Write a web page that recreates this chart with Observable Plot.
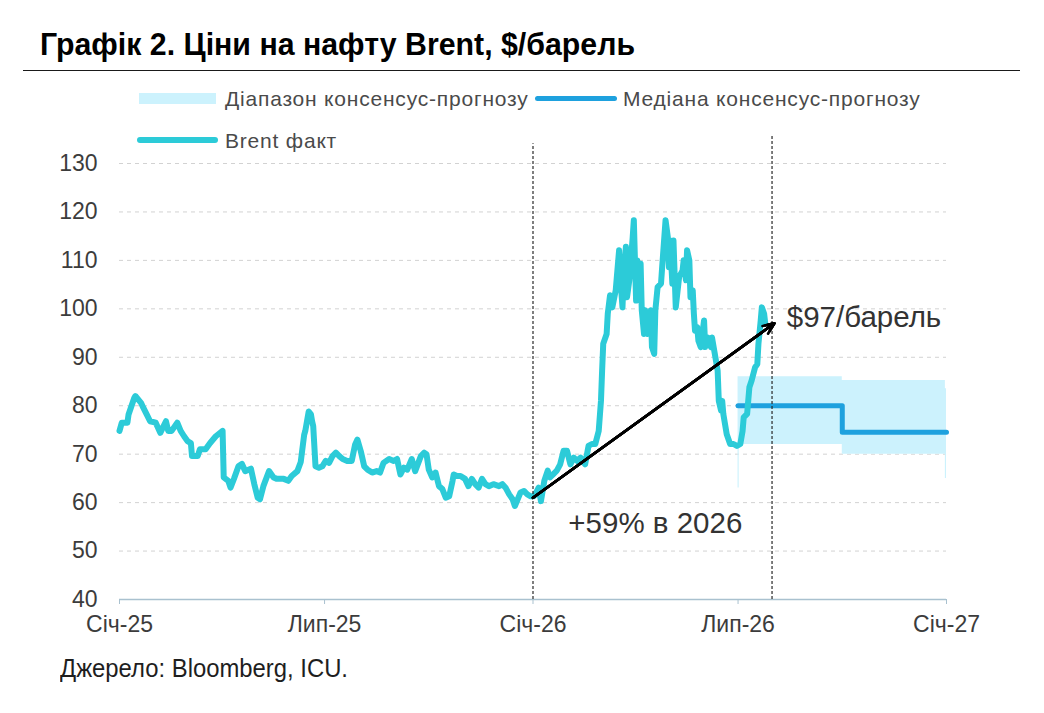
<!DOCTYPE html>
<html lang="uk">
<head>
<meta charset="utf-8">
<script src="https://cdn.jsdelivr.net/npm/d3@7"></script>
<script src="https://cdn.jsdelivr.net/npm/@observablehq/plot@0.6"></script>
<style>
  html, body { margin: 0; padding: 0; background: #fff; }
  #page { position: relative; width: 1044px; height: 713px; overflow: hidden;
          font-family: "Liberation Sans", Arial, sans-serif; }
  #title { position: absolute; left: 40px; top: 28px; white-space: nowrap;
           font-weight: bold; font-size: 32px; line-height: 32px; color: #000; }
  #rule { position: absolute; left: 23px; top: 70px; width: 997px; height: 1px; background: #1a1a1a; }
  #chart { position: absolute; left: 0; top: 120px; }
  .sw { position: absolute; }
  .lg { position: absolute; white-space: nowrap; font-size: 21px; line-height: 21px;
        letter-spacing: 0.8px; color: #4a4a4a; }
  #source { position: absolute; left: 60px; top: 655px; white-space: nowrap;
            font-size: 26px; line-height: 26px; color: #1e1e1e; }
</style>
</head>
<body>
<div id="page">
  <div id="title">Графік 2. Ціни на нафту Brent, $/барель</div>
  <div id="rule"></div>
  <div id="legend"></div>
  <div id="chart"></div>
  <div id="source">Джерело: Bloomberg, ICU.</div>
</div>
<script>
// Brent, daily closes ($/bbl)
const brentDates = [
  "2025-01-01","2025-01-03","2025-01-08","2025-01-09","2025-01-14","2025-01-15","2025-01-20","2025-01-22",
  "2025-01-25","2025-01-28","2025-02-02","2025-02-06","2025-02-11","2025-02-13","2025-02-16","2025-02-21",
  "2025-02-24","2025-02-27","2025-03-02","2025-03-05","2025-03-06","2025-03-11","2025-03-13","2025-03-18",
  "2025-03-22","2025-03-27","2025-04-02","2025-04-03","2025-04-07","2025-04-09","2025-04-12","2025-04-16",
  "2025-04-19","2025-04-22","2025-04-27","2025-04-30","2025-05-03","2025-05-05","2025-05-08","2025-05-13",
  "2025-05-17","2025-05-20","2025-05-26","2025-05-30","2025-06-02","2025-06-07","2025-06-10","2025-06-13",
  "2025-06-14","2025-06-17","2025-06-19","2025-06-20","2025-06-21","2025-06-23","2025-06-26","2025-06-29",
  "2025-07-02","2025-07-05","2025-07-08","2025-07-11","2025-07-14","2025-07-17","2025-07-21","2025-07-25",
  "2025-07-28","2025-07-30","2025-08-02","2025-08-05","2025-08-08","2025-08-12","2025-08-16","2025-08-19",
  "2025-08-22","2025-08-27","2025-08-31","2025-09-03","2025-09-06","2025-09-09","2025-09-12","2025-09-16",
  "2025-09-19","2025-09-24","2025-09-27","2025-09-29","2025-10-01","2025-10-04","2025-10-07","2025-10-10",
  "2025-10-13","2025-10-16","2025-10-19","2025-10-22","2025-10-23","2025-10-26","2025-10-29","2025-11-02",
  "2025-11-05","2025-11-08","2025-11-11","2025-11-14","2025-11-17","2025-11-20","2025-11-23","2025-11-27",
  "2025-12-02","2025-12-05","2025-12-08","2025-12-11","2025-12-14","2025-12-16","2025-12-18","2025-12-21",
  "2025-12-24","2025-12-27","2025-12-30","2026-01-02","2026-01-03","2026-01-06","2026-01-08","2026-01-11",
  "2026-01-14","2026-01-16","2026-01-19","2026-01-22","2026-01-25","2026-01-28","2026-01-31","2026-02-03",
  "2026-02-06","2026-02-09","2026-02-12","2026-02-16","2026-02-19","2026-02-22","2026-02-25","2026-02-28",
  "2026-03-02","2026-03-03","2026-03-04","2026-03-07","2026-03-08","2026-03-10","2026-03-12","2026-03-15",
  "2026-03-18","2026-03-19","2026-03-21","2026-03-22","2026-03-24","2026-03-25","2026-03-27","2026-03-28",
  "2026-03-30","2026-03-31","2026-04-02","2026-04-03","2026-04-04","2026-04-06","2026-04-07","2026-04-09",
  "2026-04-10","2026-04-12","2026-04-15","2026-04-16","2026-04-18","2026-04-19","2026-04-21","2026-04-24",
  "2026-04-25","2026-04-28","2026-04-30","2026-05-01","2026-05-02","2026-05-04","2026-05-05","2026-05-07",
  "2026-05-08","2026-05-10","2026-05-13","2026-05-14","2026-05-16","2026-05-17","2026-05-19","2026-05-20",
  "2026-05-22","2026-05-23","2026-05-24","2026-05-26","2026-05-27","2026-05-29","2026-06-01","2026-06-02",
  "2026-06-04","2026-06-07","2026-06-08","2026-06-11","2026-06-13","2026-06-14","2026-06-16","2026-06-17",
  "2026-06-18","2026-06-21","2026-06-24","2026-06-27","2026-06-30","2026-07-03","2026-07-05","2026-07-06",
  "2026-07-09","2026-07-11","2026-07-13","2026-07-16","2026-07-18","2026-07-19","2026-07-21","2026-07-22",
  "2026-07-24","2026-07-25"
];
const brentValues = [
  74.8,76.5,76.5,78.2,81.6,82,80.6,79.6,
  78.2,76.8,76.5,74.4,76.8,74.8,74.8,76.5,
  74.8,73.7,72.7,72.3,69.6,69.6,71,71,
  72.3,73.7,74.8,65.2,64.5,63.1,64.9,67.5,
  68,66.5,67,63.8,61,60.7,63.4,66.5,
  65.2,64.9,64.9,64.5,65.5,66.5,68.4,74,
  74.8,78.8,78.2,76.8,75.8,67.5,67.2,67.5,
  68.6,68.2,69.6,70.3,69.6,69,68.6,68.6,
  72,73,70.6,67.5,66.8,66.2,66.5,66.2,
  68.2,69,68.6,69,65.8,67.2,66.8,69,
  66.5,69.6,70.3,70,66.8,65.2,66.2,63.4,
  62.8,61,61.3,64.5,65.8,65.5,65.5,64.9,
  63.4,64.9,63.8,63.1,64.9,63.8,63.4,63.8,
  63.4,63.8,63,61.7,60.7,59.3,60.4,62.1,
  62.4,61.7,61.3,61.3,61.7,63.1,60.3,64.5,
  66.6,65.2,65.9,66.6,67.9,70.7,70.7,67.9,
  69.3,68.6,69.3,67.9,71.7,72.1,72.1,74.8,
  81,87.2,92.8,94.8,99,102.8,100.3,103.8,
  112.1,106.6,100.3,106.6,112.8,102.4,105.9,108.6,
  114.8,118.3,101.7,110,103.1,109.3,99.7,94.8,
  99.7,94.8,99.7,92.1,90.7,99.7,104.5,105.2,
  108.6,118.3,114.8,108.6,114.1,105.2,114.1,100.3,
  102.4,106.6,107.9,110,105.9,112.1,110,102.4,
  103.8,99,95.5,96.2,93.4,92.1,97.6,92.1,
  94.1,92.1,94.1,90,87.2,81,79,81,
  78.3,74.1,72.1,72.1,71.7,72.1,74.8,77.6,
  78.3,83.8,85.2,87.9,88.6,92.8,97.6,100.3,
  99,97
];

// Consensus forecast: range (low/high) and median, stepped by quarter
const rangeDates = ["2026-07-01","2026-07-02","2026-10-01","2026-12-31","2027-01-01"];
const rangeLow   = [63, 72, 70, 65, 65];
const rangeHigh  = [86, 86, 85.2, 83.5, 83.5];
const medianDates  = ["2026-07-01","2026-10-01","2027-01-01"];
const medianValues = [80, 74.5, 74.5];

// Axes
const yTicks = [40, 50, 60, 70, 80, 90, 100, 110, 120, 130];
const xTickDates  = ["2025-01-01","2025-07-01","2026-01-01","2026-07-01","2027-01-01"];
const xTickLabels = ["Січ-25","Лип-25","Січ-26","Лип-26","Січ-27"];

// Reference lines and the year-to-date move
const markerDates = ["2026-01-01","2026-07-31"];
const markerTops  = [134.1, 135.7];
const moveStart = {date: "2026-01-01", value: 61};
const moveEnd   = {date: "2026-08-02", value: 97};
const priceNote = {text: "$97/барель", date: "2026-08-13", value: 98.1};
const moveNote  = {text: "+59% в 2026", date: "2026-04-19", value: 55.6};

// Legend entries
const legendLabels = ["Діапазон консенсус-прогнозу", "Медіана консенсус-прогнозу", "Brent факт"];

const colors = {brent: "#2ccbd8", median: "#1ea1de", range: "#ccf2fd", axis: "#a9c1cf",
                grid: "#d2d2d2", ink: "#3c3c3c", guide: "#2a2a2a"};

const parse = s => new Date(s + "T00:00:00Z");
const brent = brentDates.map((d, i) => ({date: parse(d), value: brentValues[i]}));
const range = rangeDates.map((d, i) => ({date: parse(d), low: rangeLow[i], high: rangeHigh[i]}));
const median = medianDates.map((d, i) => ({date: parse(d), value: medianValues[i]}));
const markers = markerDates.map((d, i) => ({date: parse(d), top: markerTops[i]}));
const move = [{x1: parse(moveStart.date), y1: moveStart.value, x2: parse(moveEnd.date), y2: moveEnd.value}];
const xTicks = xTickDates.map(parse);

// Filled arrowhead: nested heads of decreasing length (lengths are in stroke widths)
const arrowHeads = [7, 5.4, 3.8, 2.2, 1].map(h =>
  Plot.arrow(move, {x1: "x1", y1: "y1", x2: "x2", y2: "y2", stroke: "#000",
                    strokeWidth: 2.6, headLength: h, headAngle: 46, strokeLinejoin: "miter"}));

const chart = Plot.plot({
  width: 1044,
  height: 530,
  marginLeft: 119,
  marginRight: 98,
  marginTop: 43,
  marginBottom: 51,
  style: {fontFamily: '"Liberation Sans", Arial, sans-serif', background: "transparent", overflow: "visible"},
  x: {type: "utc", domain: [xTicks[0], xTicks[xTicks.length - 1]]},
  y: {domain: [40, 130]},
  marks: [
    Plot.gridY({ticks: yTicks.filter(v => v > 40), stroke: colors.grid, strokeOpacity: 1, strokeDasharray: "4,4"}),
    Plot.areaY(range, {x: "date", y1: "low", y2: "high", curve: "step-after", fill: colors.range}),
    Plot.line(median, {x: "date", y: "value", curve: "step-after", stroke: colors.median,
                       strokeWidth: 5, strokeLinejoin: "round", strokeLinecap: "round"}),
    Plot.line(brent, {x: "date", y: "value", stroke: colors.brent, strokeWidth: 6,
                      strokeLinejoin: "round", strokeLinecap: "round"}),
    Plot.ruleY([40], {stroke: colors.axis, strokeWidth: 1.5}),
    Plot.axisX({ticks: xTicks, tickSize: 5, tickPadding: 11, stroke: colors.axis, fill: colors.ink,
                fontSize: 23, label: null,
                tickFormat: d => xTickLabels[xTicks.findIndex(t => +t === +d)]}),
    Plot.axisY({ticks: yTicks, tickSize: 0, tickPadding: 22, fill: colors.ink, fontSize: 23, label: null}),
    Plot.ruleX(markers, {x: "date", y1: 40, y2: "top", stroke: colors.guide, strokeWidth: 1.2,
                         strokeDasharray: "3,2"}),
    ...arrowHeads,
    Plot.text([priceNote], {x: d => parse(d.date), y: "value", text: "text", textAnchor: "start",
                            fontSize: 29.5, fill: "#333"}),
    Plot.text([moveNote], {x: d => parse(d.date), y: "value", text: "text", textAnchor: "middle",
                           fontSize: 29.5, fill: "#333"})
  ]
});
document.getElementById("chart").appendChild(chart);

// Legend (HTML, above the plot)
const legend = document.getElementById("legend");
const swatches = [
  {kind: "rect", color: colors.range, left: 139, top: 93, width: 77, height: 11, textLeft: 225, textTop: 88},
  {kind: "line", color: colors.median, left: 535, top: 96, width: 82, height: 5, textLeft: 623, textTop: 88},
  {kind: "line", color: colors.brent, left: 137, top: 137, width: 81, height: 6, textLeft: 225, textTop: 130}
];
swatches.forEach((s, i) => {
  const sw = document.createElement("div");
  sw.className = "sw";
  Object.assign(sw.style, {left: s.left + "px", top: s.top + "px", width: s.width + "px",
    height: s.height + "px", background: s.color, borderRadius: s.kind === "line" ? (s.height / 2) + "px" : "0"});
  legend.appendChild(sw);
  const tx = document.createElement("div");
  tx.className = "lg";
  tx.textContent = legendLabels[i];
  Object.assign(tx.style, {left: s.textLeft + "px", top: s.textTop + "px"});
  legend.appendChild(tx);
});

// Title and source are set in a condensed cut: squeeze the regular face to the set width
function condense(id, targetWidth) {
  const el = document.getElementById(id);
  const w = el.getBoundingClientRect().width;
  el.style.transformOrigin = "0 0";
  el.style.transform = `scaleX(${targetWidth / w})`;
}
condense("title", 595);
condense("source", 288);
</script>
</body>
</html>
